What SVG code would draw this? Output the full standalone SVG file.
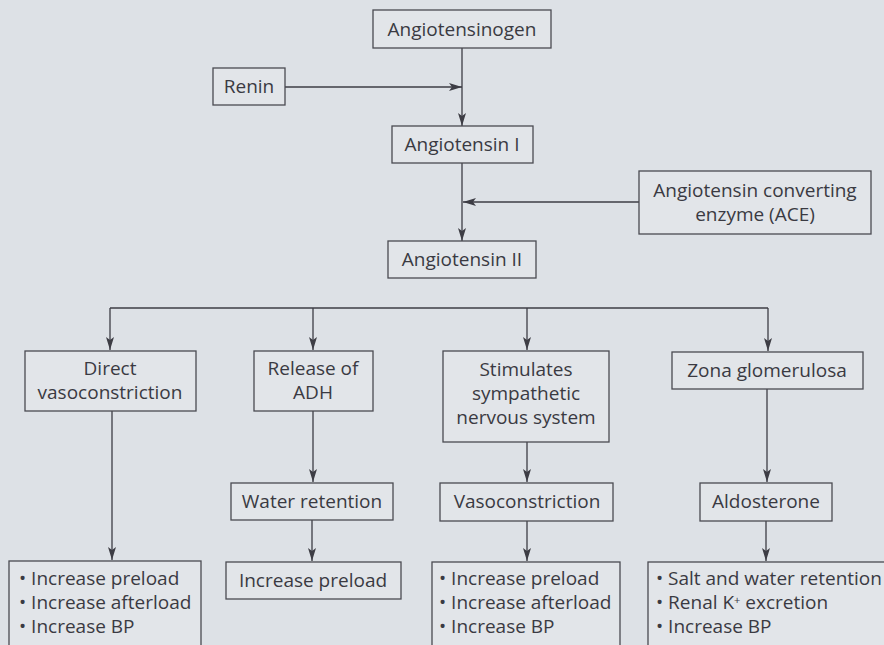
<svg xmlns="http://www.w3.org/2000/svg" width="884" height="645" viewBox="0 0 884 645">
<defs>
<marker id="ah" markerUnits="userSpaceOnUse" markerWidth="14" markerHeight="9" refX="13" refY="4" orient="auto">
<path d="M0,0 L13,4 L0,8 L3,4 z" fill="#3d3d45"/>
</marker>
<style>
.b{fill:#e2e5e9;stroke:#4a4a52;stroke-width:1.3}
.t{font-family:"Open Sans","Noto Sans","Liberation Sans",sans-serif;font-size:19px;fill:#3a3a42;text-anchor:middle}
.l{font-family:"Open Sans","Noto Sans","Liberation Sans",sans-serif;font-size:19px;fill:#3a3a42}
.c{fill:none;stroke:#3d3d45;stroke-width:1.3}
.a{marker-end:url(#ah)}
</style>
</defs>
<rect width="884" height="645" fill="#dde1e6"/>
<g id="connectors">
<path class="c a" d="M462,48 V126"/>
<path class="c a" d="M285,87 H462"/>
<path class="c a" d="M462,163 V241"/>
<path class="c a" d="M639,202 H463"/>
<path class="c" d="M110,308 H768"/>
<path class="c a" d="M110,308 V350"/>
<path class="c a" d="M313,308 V350"/>
<path class="c a" d="M527,308 V350"/>
<path class="c a" d="M768,308 V351"/>
<path class="c a" d="M112,411 V560"/>
<path class="c a" d="M313,411 V482"/>
<path class="c a" d="M312,520 V561"/>
<path class="c a" d="M527,442 V482"/>
<path class="c a" d="M527,521 V561"/>
<path class="c a" d="M767,389 V482"/>
<path class="c a" d="M766,521 V561"/>
</g>
<g id="angiotensinogen"><rect class="b" x="373" y="10" width="178" height="38"/><text class="t" x="462" y="36">Angiotensinogen</text></g>
<g id="renin"><rect class="b" x="213" y="68" width="72" height="37"/><text class="t" x="249" y="93">Renin</text></g>
<g id="angiotensin-i"><rect class="b" x="392" y="126" width="141" height="37"/><text class="t" x="462" y="151">Angiotensin I</text></g>
<g id="ace"><rect class="b" x="639" y="171" width="232" height="63"/><text class="t" x="755" y="197">Angiotensin converting</text><text class="t" x="755" y="221">enzyme (ACE)</text></g>
<g id="angiotensin-ii"><rect class="b" x="388" y="241" width="148" height="37"/><text class="t" x="462" y="266">Angiotensin II</text></g>
<g id="direct-vasoconstriction"><rect class="b" x="25" y="351" width="171" height="60"/><text class="t" x="110" y="375">Direct</text><text class="t" x="110" y="399">vasoconstriction</text></g>
<g id="release-adh"><rect class="b" x="254" y="351" width="119" height="60"/><text class="t" x="313" y="375">Release of</text><text class="t" x="313" y="399">ADH</text></g>
<g id="stimulates"><rect class="b" x="443" y="351" width="166" height="91"/><text class="t" x="526" y="376">Stimulates</text><text class="t" x="526" y="400">sympathetic</text><text class="t" x="526" y="424">nervous system</text></g>
<g id="zona"><rect class="b" x="672" y="352" width="191" height="37"/><text class="t" x="767" y="377">Zona glomerulosa</text></g>
<g id="water-retention"><rect class="b" x="231" y="483" width="162" height="37"/><text class="t" x="312" y="508">Water retention</text></g>
<g id="vasoconstriction"><rect class="b" x="440" y="483" width="173" height="38"/><text class="t" x="527" y="508">Vasoconstriction</text></g>
<g id="aldosterone"><rect class="b" x="700" y="483" width="132" height="38"/><text class="t" x="766" y="508">Aldosterone</text></g>
<g id="effects-1"><rect class="b" x="9" y="561" width="192" height="100"/>
<text class="l" x="19" y="585">• Increase preload</text><text class="l" x="19" y="609">• Increase afterload</text><text class="l" x="19" y="633">• Increase BP</text></g>
<g id="effects-2"><rect class="b" x="226" y="562" width="175" height="37"/><text class="t" x="313" y="587">Increase preload</text></g>
<g id="effects-3"><rect class="b" x="432" y="562" width="188" height="100"/>
<text class="l" x="439" y="585">• Increase preload</text><text class="l" x="439" y="609">• Increase afterload</text><text class="l" x="439" y="633">• Increase BP</text></g>
<g id="effects-4"><rect class="b" x="648" y="562" width="250" height="100"/>
<text class="l" x="656" y="585">• Salt and water retention</text><text class="l" x="656" y="609">• Renal K<tspan font-size="11" dy="-5">+</tspan><tspan dy="5"> excretion</tspan></text><text class="l" x="656" y="633">• Increase BP</text></g>
</svg>
